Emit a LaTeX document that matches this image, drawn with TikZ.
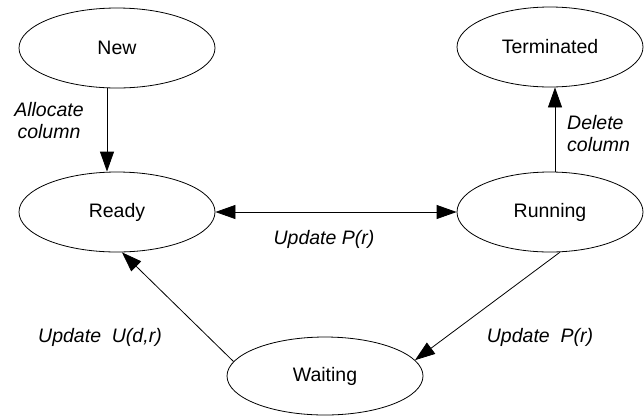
\documentclass[tikz,border=0pt]{standalone}
\usepackage{fontspec}
\setmainfont{Liberation Sans}
\usetikzlibrary{shapes.geometric,arrows.meta}
\tikzset{
  state/.style={draw=black, line width=0.8pt, ellipse, minimum width=196pt, minimum height=80pt, inner sep=0pt, font=\fontsize{19.5}{22}\selectfont},
  lbl/.style={font=\fontsize{19.5}{22}\selectfont\itshape, inner sep=0pt},
  conn/.style={line width=0.8pt, -{Triangle[length=20pt,width=14pt]}},
  bconn/.style={line width=0.8pt, {Triangle[length=20pt,width=14pt]}-{Triangle[length=20pt,width=14pt]}}
}
\begin{document}
\begin{tikzpicture}[x=1pt,y=-1pt]
\useasboundingbox (0,0) rectangle (644,416);
\node[state] (new) at (117,48) {New};
\node[state, minimum width=186pt] (term) at (550,47) {Terminated};
\node[state] (ready) at (117,212) {Ready};
\node[state, minimum width=186pt] (run) at (550,212) {Running};
\node[state, minimum width=196pt, minimum height=78pt] (wait) at (325,376) {Waiting};

\coordinate (a1) at (107,87);
\coordinate (a2) at (107,172.5);
\draw[conn] (new.south -| a1) -- (ready.north -| a2);
\coordinate (d1) at (555,0);
\draw[conn] (run.north -| d1) -- (term.south -| d1);
\draw[bconn] (ready.east) -- (run.west);
\draw[conn] (wait.171) -- (ready.-83);
\draw[conn] (run.-76) -- (wait.10);

\node[lbl, align=center] (l1) at (49,121) {Allocate\\column};
\node[lbl, align=left, anchor=west] (l2) at (567,134) {Delete\\column};
\node[lbl] (l3) at (324,239) {Update P(r)};
\node[lbl] (l4) at (100,337) {Update\ \ U(d,r)};
\node[lbl] (l5) at (540,337) {Update\ \ P(r)};
\end{tikzpicture}
\end{document}
